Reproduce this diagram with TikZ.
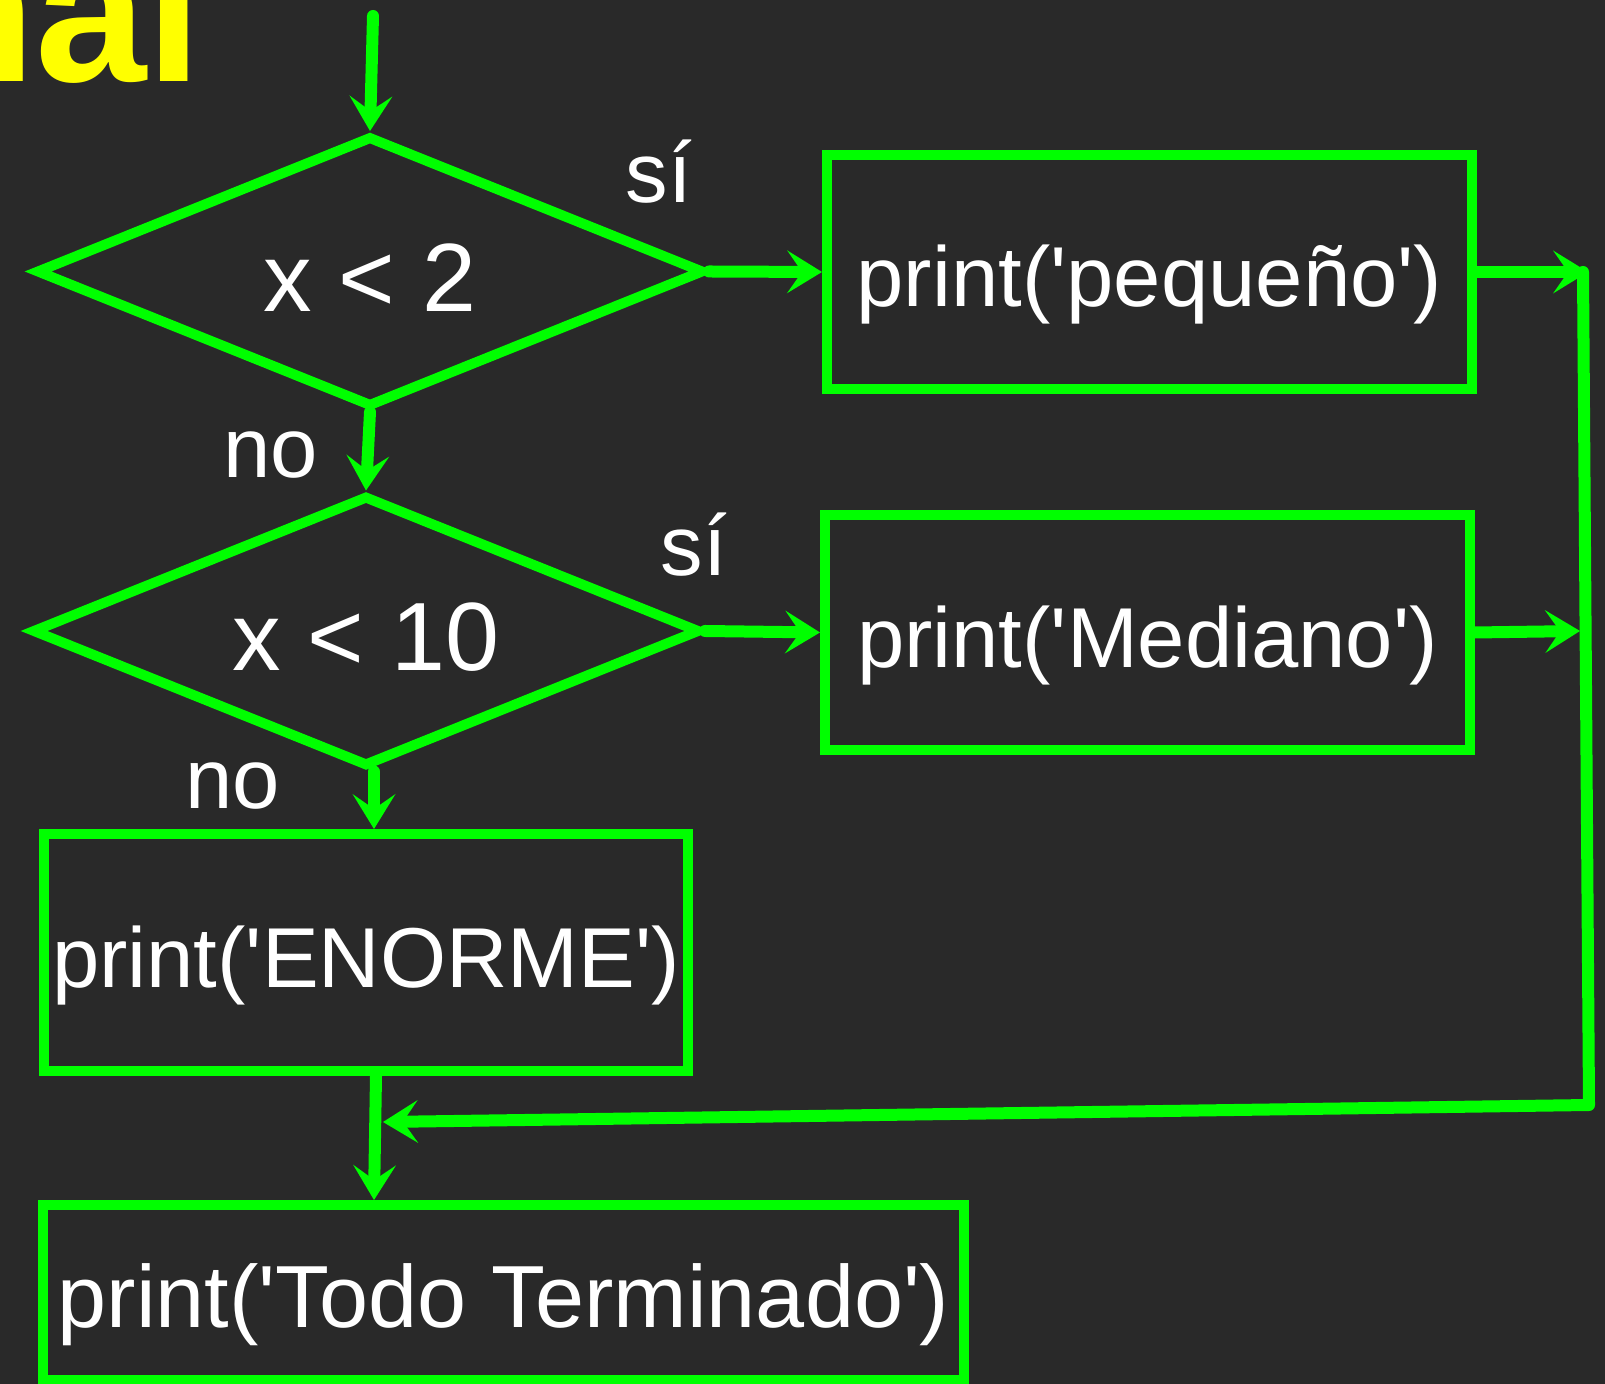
\documentclass[tikz,border=0pt]{standalone}
\usepackage{fontspec}
\setmainfont{Liberation Sans}[Ligatures=TeXOff]
\usetikzlibrary{arrows.meta, shapes.geometric, calc}
\definecolor{mygreen}{RGB}{0, 255, 0}
\definecolor{mygray1}{RGB}{41, 41, 41}
\definecolor{myyellow}{RGB}{255, 255, 0}
\tikzset{>={Stealth[length=3.5mm, width=4.3mm, inset=1.5mm, line width=0pt]}}

\begin{document}
\begin{tikzpicture}[
    bx/.style = {draw = mygreen, line width = 1mm, inner sep = 0pt, text = white, font = \fontsize{24.2}{29}\selectfont, text height = 8mm, text depth = 1mm},
    dm/.style = {bx, shape = diamond, aspect = 2.47, font = \fontsize{27.6}{32}\selectfont, text height = 9mm, minimum width = 6.68cm, minimum height = 2.71cm},
    ar/.style = {->, draw = mygreen, line width = 1.2mm, line cap = round},
    lb/.style = {anchor = base, inner sep = 0pt, text = white, font = \fontsize{24.2}{29}\selectfont},
]

\useasboundingbox (0,0) rectangle (16.05,-13.84);
\fill[mygray1] (0,0) rectangle (16.05,-13.84);
\node[anchor = base east, inner sep = 0pt, text = myyellow, font = \fontsize{56.9}{60}\selectfont\bfseries] (ttl) at (2.03,-0.82) {nal};

\node[dm] (c1) at (3.70,-2.715) {x < 2};
\node[dm] (c2) at (3.66,-6.31) {x < 10};

\node[bx, minimum width = 6.45cm, minimum height = 2.34cm] (p1) at (11.495,-2.72) {print('pequeño')};
\node[bx, minimum width = 6.45cm, minimum height = 2.35cm] (p2) at (11.475,-6.325) {print('Mediano')};
\node[bx, minimum width = 6.44cm, minimum height = 2.37cm] (p3) at (3.66,-9.525) {print('ENORME')};
\node[bx, font = \fontsize{25.1}{30}\selectfont, minimum width = 9.21cm, minimum height = 1.75cm] (p4) at (5.035,-12.925) {print('Todo Terminado')};

\node[lb] (s1) at (6.59,-2.03) {sí};
\node[lb] (s2) at (6.94,-5.76) {sí};
\node[lb] (n1) at (2.71,-4.78) {no};
\node[lb] (n2) at (2.33,-8.09) {no};

\coordinate (in) at (3.73,-0.16);
\coordinate (r0) at (15.83,-2.72);
\coordinate (r1) at (15.88,-2.72);
\coordinate (r2) at (15.80,-6.31);
\coordinate (r3) at (15.89,-11.05);
\coordinate (j) at (3.83,-11.22);

\draw[ar] (in) -- (c1.north);
\draw[ar] (c1.east) -- (p1.west);
\draw[ar] (c2.east) -- (p2.west);
\draw[ar] (c1.south) -- (c2.north);
\draw[ar] ([xshift=0.08cm]c2.south) -- ([xshift=0.08cm]p3.north);
\draw[ar] ([xshift=0.1cm]p3.south) -- ([xshift=0.08cm]p3.south |- p4.north);
\draw[ar] (p1.east) -- (r1);
\draw[ar] (p2.east) -- (r2);
\draw[ar, line join = round] (r0) -- (r3) -- (j);

\end{tikzpicture}
\end{document}
